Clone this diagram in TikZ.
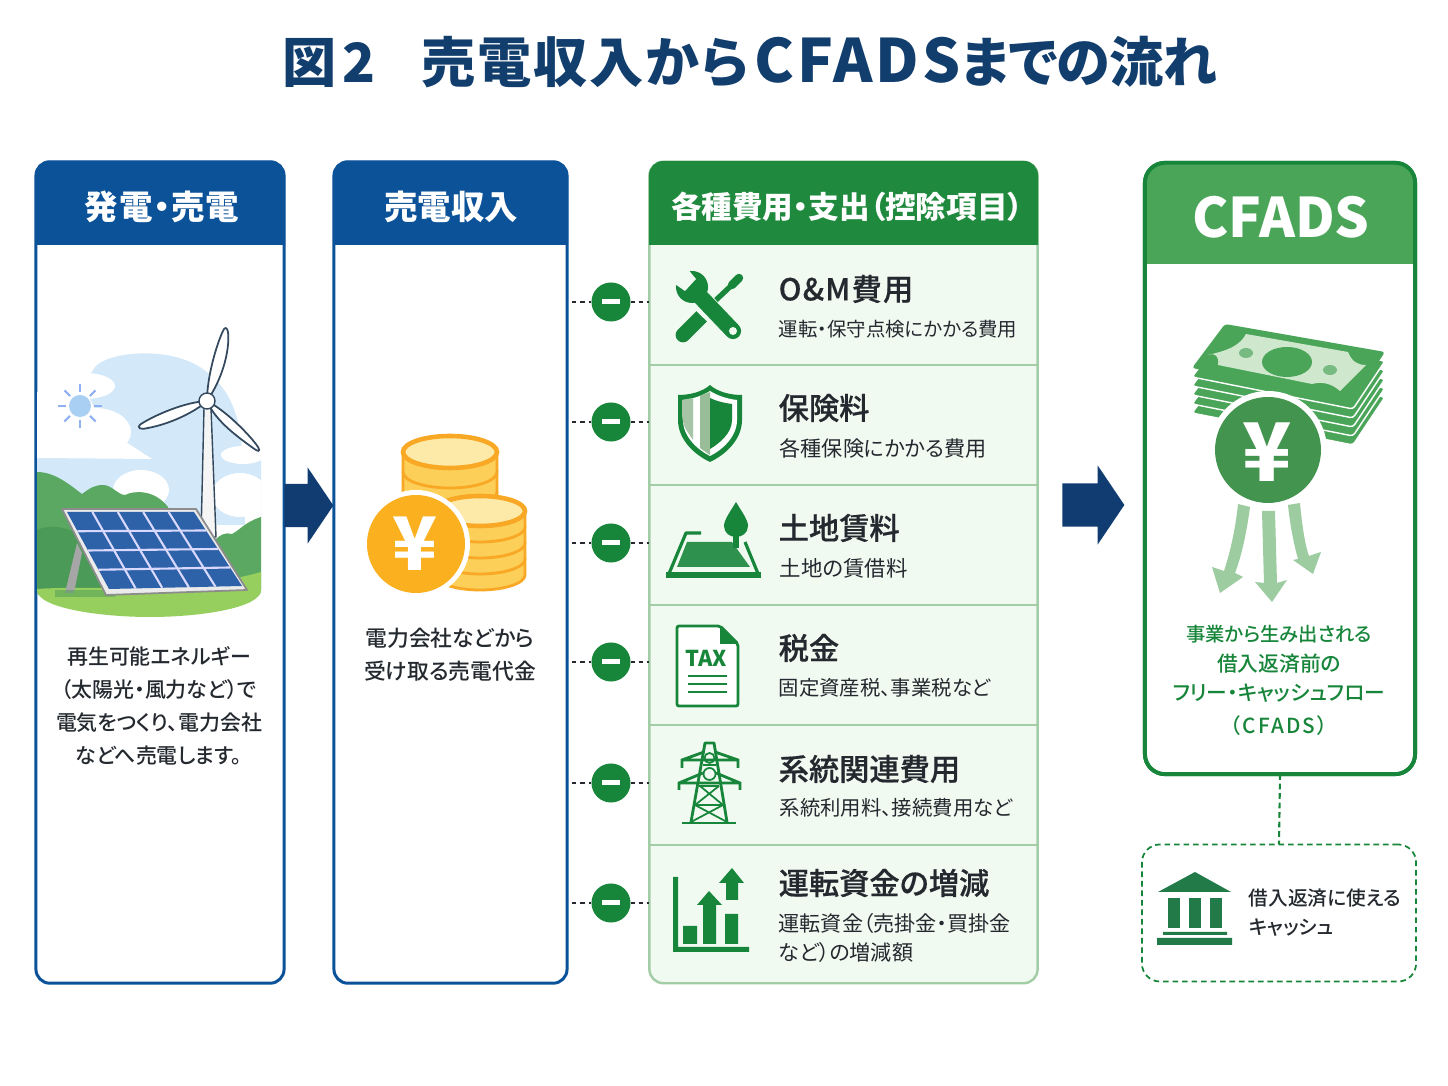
\documentclass[tikz,border=0pt]{standalone}
\usepackage{fontspec}
\setmainfont{Noto Sans CJK JP}[RawFeature=+palt]
\newfontfamily\medfont{Noto Sans CJK JP Medium}[RawFeature=+palt]
\newfontfamily\rowfont{Noto Sans CJK JP Medium}[RawFeature=+palt,FakeBold=.5]
\usetikzlibrary{calc,shapes.arrows}

\definecolor{navy}{HTML}{123E6E}
\definecolor{arrownavy}{HTML}{103C72}
\definecolor{bluehead}{HTML}{0B5299}
\definecolor{greenhead}{HTML}{1F8A3E}
\definecolor{cfadshead}{HTML}{4AA558}
\definecolor{icongreen}{HTML}{17863A}
\definecolor{rowfill}{HTML}{F0FAF1}
\definecolor{rowline}{HTML}{A3CDA6}
\definecolor{ink}{HTML}{24292F}
\definecolor{coinline}{HTML}{F9A825}
\definecolor{coinbody}{HTML}{FCCF58}
\definecolor{cointop}{HTML}{FDE9A8}
\definecolor{coinface}{HTML}{FBB01F}
\definecolor{sky}{HTML}{D3E8F8}
\definecolor{paleback}{HTML}{9CCC9F}
\definecolor{hillback}{HTML}{5BA862}
\definecolor{hillfront}{HTML}{4C9A58}
\definecolor{grass}{HTML}{97CF5E}
\definecolor{cell}{HTML}{2D62A8}
\definecolor{sunblue}{HTML}{A9CFF2}
\definecolor{slate}{HTML}{34495E}
\definecolor{billpale}{HTML}{CFE8CD}
\definecolor{bankgreen}{HTML}{217A47}

\tikzset{
  panelblue/.style={draw=bluehead,line width=.85pt,fill=white,rounded corners=.14cm,inner sep=0pt,outer sep=0pt},
  panelgreen/.style={draw=rowline,line width=.7pt,fill=rowfill,rounded corners=.14cm,inner sep=0pt,outer sep=0pt},
  panelcfads/.style={draw=icongreen,line width=1.1pt,fill=white,rounded corners=.2cm,inner sep=0pt,outer sep=0pt},
  cashbox/.style={draw=icongreen,line width=.5pt,dash pattern=on 1.6pt off 1.1pt,rounded corners=.18cm,inner sep=0pt,outer sep=0pt},
  blockarrow/.style={single arrow,fill=arrownavy,inner xsep=0pt,inner ysep=.21cm,single arrow tip angle=112,single arrow head indent=0pt},
  minus/.style={circle,fill=icongreen,minimum size=.39cm,inner sep=0pt,outer sep=0pt},
  leader/.style={draw=ink,line width=.4pt,dash pattern=on 1.2pt off 1.2pt},
  headtext/.style={text=white,font=\bfseries\fontsize{9.5}{11}\selectfont},
  rowhead/.style={text=ink,anchor=west,inner sep=0pt,font=\rowfont\fontsize{8.6}{10}\selectfont},
  rowtext/.style={text=ink,anchor=west,inner sep=0pt,align=left,font=\fontsize{#1}{8.5}\selectfont},
  rowtext/.default=5.8,
  bodytext/.style={text=ink,align=center,inner sep=0pt,font=\fontsize{6.2}{9.3}\selectfont},
  yen/.style={text=white,inner sep=0pt,font=\bfseries\fontsize{21}{21}\selectfont},
  blade/.style={fill=white,draw=slate,line width=.5pt},
}

% header bar with two round corners: x1, x2, y1, y2, radius, colour
\newcommand{\headbar}[6]{\fill[#6] (#1,#4) [rounded corners=#5] -- (#1,#3) -- (#2,#3) [sharp corners] -- (#2,#4) -- cycle;}

% stack of coins: centre x, top y, layers, layer height, x radius, y radius
\newcommand{\coinstack}[6]{
  \foreach \k in {#3,...,1}
    \draw[coinline,line width=.8pt,fill=coinbody] ({#1-#5},{#2+(\k-1)*#4}) -- ++(0,#4)
      arc[start angle=180,end angle=0,x radius=#5,y radius=#6] -- ++(0,-#4)
      arc[start angle=0,end angle=-180,x radius=#5,y radius=#6] -- cycle;
  \draw[coinline,line width=1.3pt,fill=cointop] (#1,#2) ellipse[x radius=#5,y radius=#6];
}

\begin{document}
\begin{tikzpicture}[x=0.01cm,y=-0.01cm]
  \useasboundingbox (0,0) rectangle (1448,1086);
  \fill[white] (0,0) rectangle (1448,1086);

  % Title
  \node[text=navy,inner sep=0pt,font=\bfseries\fontsize{15.4}{18}\selectfont] (title) at (750,62) {図\hspace{.1em}2\hspace{.85em}{\addfontfeature{LetterSpace=3.5}売電収入から}\hspace{.1em}{\fontsize{17}{18}\selectfont\addfontfeature{LetterSpace=5}CFADS}{\addfontfeature{LetterSpace=-1.5}までの流れ}};

  % Panels
  \node[panelblue,minimum width=2.48cm,minimum height=8.21cm] (gen) at (160,572.5) {};
  \node[panelblue,minimum width=2.33cm,minimum height=8.21cm] (rev) at (450.5,572.5) {};
  \node[panelgreen,minimum width=3.88cm,minimum height=8.21cm] (cost) at (843.5,572.5) {};
  \node[panelcfads,minimum width=2.70cm,minimum height=6.11cm] (cfads) at (1280,468.5) {};
  \node[cashbox,minimum width=2.74cm,minimum height=1.37cm] (cash) at (1279,913) {};
  \draw[icongreen,line width=.6pt,dash pattern=on 1.6pt off 1.1pt] (cfads.south) -- (cash.north);

  \headbar{35}{285}{161}{245}{.14cm}{bluehead}
  \headbar{333}{568}{161}{245}{.14cm}{bluehead}
  \headbar{649}{1038}{161}{245}{.14cm}{greenhead}
  \headbar{1145}{1415}{163}{264}{.2cm}{cfadshead}
  \draw[icongreen,line width=1.1pt,rounded corners=.2cm] (cfads.north west) rectangle (cfads.south east);
  \node[headtext,font=\bfseries\addfontfeature{LetterSpace=3}\fontsize{9.5}{11}\selectfont] (genhead) at (162,207) {発電・売電};
  \node[headtext] (revhead) at (451,207) {売電収入};
  \node[headtext,font=\bfseries\fontsize{8.7}{11}\selectfont] (costhead) at (847,207) {各種費用・支出（控除項目）};
  \node[text=white,inner sep=0pt,font=\bfseries\fontsize{15.5}{17}\selectfont] (cfadstitle) at (1281,217) {CFADS};

  % Flow arrows
  \node[blockarrow,minimum height=.49cm,single arrow head extend=.165cm] (arrowa) at (301.5,505.5) {};
  \node[blockarrow,minimum height=.62cm,single arrow head extend=.18cm] (arrowb) at (1086,505) {};

  % Scene
  \begin{scope}
    \clip (37,340) -- (261,340) -- (261,590) .. controls (261,608) and (200,617) .. (150,617) .. controls (100,617) and (37,608) .. (37,590) -- cycle;
    \fill[sky] (95,367) .. controls (110,350) and (180,345) .. (210,375) .. controls (235,395) and (240,425) .. (242,452) -- (261,460) -- (261,525) -- (37,525) -- (37,458) -- cycle;
    \fill[white] (85,386) ellipse[x radius=30,y radius=13];
    \fill[white] (60,415) ellipse[x radius=35,y radius=30];
    \fill[white] (95,432) ellipse[x radius=36,y radius=24];
    \fill[white] (37,458) -- (152,459) -- (115,435) -- (37,435) -- cycle;
    \fill[white] (141,490) ellipse[x radius=28,y radius=20];
    \fill[white] (240,495) ellipse[x radius=28,y radius=22];
    \fill[white] (243,455) ellipse[x radius=22,y radius=9];
    \fill[white] (245,495) rectangle (261,540);
    % hills
    \fill[hillback] (37,472) .. controls (55,472) and (70,485) .. (82,494) .. controls (90,488) and (95,485) .. (103,485) .. controls (112,485) and (118,495) .. (125,495) .. controls (135,490) and (155,490) .. (168,507) -- (180,595) -- (37,595) -- cycle;
    \fill[hillback] (261,517) .. controls (245,522) and (240,530) .. (232,534) .. controls (225,532) and (220,535) .. (215,540) -- (215,595) -- (261,595) -- cycle;
    \fill[hillfront] (37,530) .. controls (60,520) and (80,535) .. (100,545) -- (120,595) -- (37,595) -- cycle;
    % grass
    \fill[grass] (37,589) .. controls (90,585) and (180,595) .. (261,572) -- (261,620) -- (37,620) -- cycle;
  \end{scope}

  % Sun
  \fill[sunblue] (80,406) circle[radius=11];
  \foreach \a in {0,45,...,315}
    \draw[sunblue!85!blue,line width=.6pt] (80,406) ++(\a:14) -- ++(\a:8);

  % Wind turbine
  \filldraw[draw=slate,line width=.4pt,fill=black!4] (204,408) -- (211,408) -- (216,537) -- (201,537) -- cycle;
  \draw[blade] (207,401) .. controls (207,375) and (218,340) .. (224,329) .. controls (228,325) and (229,335) .. (228,345) .. controls (226,365) and (218,385) .. (207,401) -- cycle;
  \draw[blade] (207,401) .. controls (185,402) and (155,415) .. (141,424) .. controls (136,428) and (140,430) .. (148,428) .. controls (170,424) and (195,412) .. (207,401) -- cycle;
  \draw[blade] (207,401) .. controls (225,410) and (250,435) .. (258,447) .. controls (261,452) and (258,452) .. (253,448) .. controls (235,435) and (215,420) .. (207,401) -- cycle;
  \filldraw[fill=white,draw=slate,line width=.4pt] (207,401) circle[radius=8];

  % Solar panel
  \fill[black!35] (77,543) -- (82,553) -- (74,593) -- (65,593) -- cycle;
  \fill[hillfront,opacity=.5] (55,590) rectangle (115,597);
  \filldraw[fill=black!8,draw=black!45,line width=.5pt,line join=round] (62,509) -- (196,509) -- (247,590) -- (106,595) -- cycle;
  \coordinate (pa) at (67,512);
  \coordinate (pb) at (194,512);
  \coordinate (pc) at (242,586);
  \coordinate (pd) at (109,589);
  \fill[cell] (pa) -- (pb) -- (pc) -- (pd) -- cycle;
  \foreach \t in {.25,.5,.75}
    \draw[white!85!blue,line width=.6pt] ($(pa)!\t!(pd)$) -- ($(pb)!\t!(pc)$);
  \foreach \t in {.2,.4,.6,.8}
    \draw[white!85!blue,line width=.6pt] ($(pa)!\t!(pb)$) -- ($(pd)!\t!(pc)$);

  \node[bodytext,font=\medfont\fontsize{5.95}{9.35}\selectfont] (gentext) at (159,706) {再生可能エネルギー\\（太陽光・風力など）で\\電気をつくり、電力会社\\などへ売電します。};

  % Coins
  \coinstack{450}{452}{3}{20}{47}{16}
  \coinstack{480}{511}{4}{16}{45}{15}
  \fill[white] (416,544) circle[radius=54];
  \fill[coinface] (416,544) circle[radius=49];
  \node[yen] (coinyen) at (415,544) {¥};
  \node[bodytext,font=\medfont\fontsize{6.2}{9.3}\selectfont] (revtext) at (450,655) {電力会社などから\\受け取る売電代金};

  % Cost rows
  \foreach \y in {365,485,605,725,845}
    \draw[rowline,line width=.6pt] (649,\y) -- (1038,\y);

  \foreach \i/\y in {1/302,2/422,3/543,4/662,5/783,6/903} {
    \node[minus] (m\i) at (611,\y) {};
    \coordinate (la\i) at (572,\y);
    \coordinate (lb\i) at (cost.west |- m\i);
    \draw[leader] (la\i) -- (m\i);
    \draw[leader] (m\i) -- (lb\i);
    \fill[white] (602,\y-3) rectangle (620,\y+2);
  }

  \node[rowhead,font=\rowfont\addfontfeature{LetterSpace=4}\fontsize{8.6}{10}\selectfont] (h1) at (778,289) {O\&M費用};
  \node[rowtext=5.52] (t1) at (778,329) {運転・保守点検にかかる費用};
  \node[rowhead] (h2) at (778,408) {保険料};
  \node[rowtext=6] (t2) at (779,448) {各種保険にかかる費用};
  \node[rowhead] (h3) at (778,528) {土地賃料};
  \node[rowtext=6.1] (t3) at (779,568) {土地の賃借料};
  \node[rowhead] (h4) at (778,648) {税金};
  \node[rowtext] (t4) at (778,688) {固定資産税、事業税など};
  \node[rowhead] (h5) at (778,769) {系統関連費用};
  \node[rowtext] (t5) at (779,808) {系統利用料、接続費用など};
  \node[rowhead] (h6) at (778,883) {運転資金の増減};
  \node[rowtext=6] (t6) at (778,938) {運転資金（売掛金・買掛金\\など）の増減額};

  % Tools icon
  \draw[icongreen,line width=4.2pt,line cap=round] (683,335) -- (703,315);
  \draw[icongreen,line width=1.5pt] (716,300) -- (733,284);
  \draw[icongreen,line width=2.4pt,line cap=round] (732,285) -- (739,278);
  \draw[rowfill,line width=6pt] (696,296) -- (733,332);
  \draw[icongreen,line width=4.6pt,line cap=round] (692,288) -- (733,331);
  \fill[icongreen] (692,287) circle[radius=16];
  \fill[rowfill] (672,282) -- (686,267) -- (696,279) -- (685,291) -- cycle;
  \fill[rowfill] (733,331) circle[radius=4];

  % Shield icon
  \fill[icongreen] (710,385) .. controls (718,392) and (730,395) .. (742,395) -- (742,420) .. controls (742,440) and (725,455) .. (710,462) .. controls (695,455) and (678,440) .. (678,420) -- (678,395) .. controls (690,395) and (702,392) .. (710,385) -- cycle;
  \fill[white] (710,391) .. controls (718,396) and (728,399) .. (737,400) -- (737,420) .. controls (737,437) and (722,450) .. (710,456) .. controls (698,450) and (683,437) .. (683,420) -- (683,400) .. controls (692,399) and (702,396) .. (710,391) -- cycle;
  \fill[green!35!black!35!white] (682,400) -- (693,398) -- (693,440) .. controls (688,432) and (683,428) .. (682,415) -- cycle;
  \fill[green!35!black!40!white] (700,396) -- (710,392) -- (710,455) -- (700,448) -- cycle;
  \fill[icongreen] (710,398) .. controls (716,401) and (724,403) .. (732,404) -- (732,420) .. controls (732,433) and (720,443) .. (710,449) -- cycle;

  % Land icon
  \draw[icongreen,line width=.9pt,line join=round] (701,533) -- (686,533) -- (668,576) -- (759,576) -- (745,542);
  \fill[icongreen] (666,572) rectangle (761,578);
  \fill[icongreen!90!white] (687,542) -- (732,542) -- (750,567) -- (677,567) -- cycle;
  \fill[icongreen] (733,530) rectangle (739,548);
  \fill[icongreen] (736,502) .. controls (742,512) and (748,520) .. (748,526) .. controls (748,533) and (742,537) .. (736,537) .. controls (730,537) and (724,533) .. (724,526) .. controls (724,520) and (730,512) .. (736,502) -- cycle;

  % Tax icon
  \filldraw[fill=white,draw=icongreen,line width=.8pt,rounded corners=.02cm] (677,626) -- (720,626) -- (738,644) -- (738,706) -- (677,706) -- cycle;
  \fill[icongreen] (720,626) -- (738,644) -- (720,644) -- cycle;
  \node[text=icongreen,inner sep=0pt,font=\bfseries\fontsize{6.2}{7}\selectfont] (taxtext) at (706,658) {TAX};
  \foreach \y in {676,684,692}
    \draw[icongreen,line width=.45pt] (688,\y) -- (727,\y);

  % Pylon icon
  \draw[icongreen,line width=.8pt,line join=round] (691,822) -- (705,743) -- (714,743) -- (727,822);
  \draw[icongreen,line width=.55pt] (703,765) -- (716,765) (699,786) -- (719,786) (695,805) -- (723,805);
  \draw[icongreen,line width=.5pt] (700,786) -- (723,805) (719,786) -- (695,805) (695,805) -- (727,822) (723,805) -- (691,822);
  \draw[icongreen,line width=.5pt] (709.5,758) circle[radius=5] (709.5,774) circle[radius=6];
  \draw[icongreen,line width=.8pt] (682,768) -- (682,760) -- (704,752) (715,752) -- (738,760) -- (738,768) (682,760) -- (738,760);
  \draw[icongreen,line width=.8pt] (679,790) -- (679,783) -- (703,773) (716,773) -- (740,783) -- (740,790) (679,783) -- (740,783);
  \draw[icongreen,line width=.8pt] (682,823) -- (736,823);

  % Chart icon
  \fill[icongreen] (673,877) rectangle (678,952) (673,947) rectangle (749,952);
  \fill[icongreen] (683,926) rectangle (697,944) (725,914) rectangle (738,944);
  \fill[icongreen] (703,944) -- (703,905) -- (697,905) -- (709,891) -- (722,905) -- (716,905) -- (716,944) -- cycle;
  \fill[icongreen] (726,900) -- (726,883) -- (719,883) -- (732,868) -- (744,883) -- (738,883) -- (738,900) -- cycle;

  % Money icon
  \foreach \k in {5,4,3,2,1}
    \filldraw[shift={(0,\k*9)},fill=cfadshead,draw=white,line width=.4pt,rounded corners=.03cm] (1225,324) -- (1385,352) -- (1353,400) -- (1192,368) -- cycle;
  \fill[cfadshead,rounded corners=.03cm] (1225,324) -- (1385,352) -- (1353,400) -- (1192,368) -- cycle;
  \fill[billpale] (1246,334) -- (1348,352) .. controls (1352,362) and (1358,365) .. (1366,365) -- (1340,391) .. controls (1330,382) and (1320,382) .. (1312,384) -- (1218,365) .. controls (1220,355) and (1212,352) .. (1208,355) .. controls (1230,350) and (1240,345) .. (1246,334) -- cycle;
  \fill[cfadshead] (1287,362) ellipse[x radius=25,y radius=15];
  \fill[cfadshead!75!white] (1246,353) ellipse[x radius=7,y radius=5];
  \fill[cfadshead!75!white] (1330,370) ellipse[x radius=7,y radius=5];

  % Coin and arrows under it
  \fill[white] (1268,450) circle[radius=59];
  \fill[cfadshead!90!black] (1268,450) circle[radius=53];
  \node[yen,font=\bfseries\fontsize{23}{23}\selectfont] (moneyyen) at (1267,452) {¥};
  \fill[paleback] (1238,504) -- (1250,507) .. controls (1247,530) and (1242,555) .. (1235,573) -- (1243,577) -- (1220,593) -- (1212,567) -- (1224,571) .. controls (1231,550) and (1236,525) .. (1238,504) -- cycle;
  \fill[paleback] (1262,511) -- (1275,511) -- (1277,583) -- (1287,580) -- (1272,602) -- (1255,582) -- (1264,583) -- cycle;
  \fill[paleback] (1288,505) -- (1300,503) .. controls (1302,525) and (1305,545) .. (1309,556) -- (1321,552) -- (1313,574) -- (1293,560) -- (1298,559) .. controls (1294,545) and (1290,525) .. (1288,505) -- cycle;

  \node[bodytext,text=icongreen,font=\medfont\fontsize{5.9}{8.4}\selectfont] (cfadstext) at (1279,680.5) {{\fontsize{5.5}{8.4}\selectfont 事業から生み出される}\\借入返済前の\\フリー・キャッシュフロー\\[.9pt]{\addfontfeature{LetterSpace=10}（CFADS）}};

  % Bank icon
  \fill[bankgreen] (1158,892) -- (1195,872) -- (1231,892) -- cycle;
  \foreach \x in {1168,1189,1210}
    \fill[bankgreen] (\x,898) rectangle ++(12,30);
  \fill[bankgreen] (1163,932) rectangle (1227,935) (1157,938) rectangle (1232,945);
  \node[rowtext,font=\medfont\fontsize{5.6}{8.3}\selectfont] (cashtext) at (1248,913) {借入返済に使える\\キャッシュ};
\end{tikzpicture}
\end{document}
